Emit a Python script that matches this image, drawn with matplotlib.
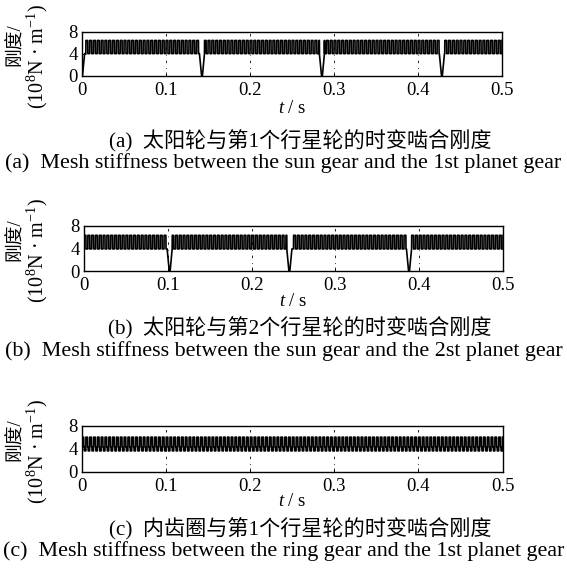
import numpy as np
import matplotlib
matplotlib.use("Agg")
import matplotlib.pyplot as plt

plt.rcParams['font.family'] = ['Liberation Serif', 'Noto Sans CJK SC', 'DejaVu Sans']
plt.rcParams['mathtext.fontset'] = 'custom'
plt.rcParams['mathtext.rm'] = 'Liberation Serif'
plt.rcParams['mathtext.it'] = 'Liberation Serif:italic'

# ---- data ----
t_ticks = [0, 0.1, 0.2, 0.3, 0.4, 0.5]
t_tick_labels = ["0", "0.1", "0.2", "0.3", "0.4", "0.5"]
k_ticks = [0, 4, 8]
k_tick_labels = ["0", "4", "8"]
mesh_freq = 220.0                                  # Hz
# stiffness levels within one mesh period (1e8 N/m) and phase where each level ends
k_levels = [[6.4, 4.0], [6.3, 3.9], [6.0, 4.3, 3.6]]
phase_ends = [[0.5, 1.0], [0.5, 1.0], [0.45, 0.6, 1.0]]
fault_times = [[0.0, 0.1428, 0.2856, 0.4284],
               [0.1022, 0.2450, 0.3878],
               []]
fault_halfwidth = 0.003                            # s
captions_cn = ["(a)  太阳轮与第1个行星轮的时变啮合刚度",
               "(b)  太阳轮与第2个行星轮的时变啮合刚度",
               "(c)  内齿圈与第1个行星轮的时变啮合刚度"]
captions_en = ["(a)  Mesh stiffness between the sun gear and the 1st planet gear",
               "(b)  Mesh stiffness between the sun gear and the 2st planet gear",
               "(c)  Mesh stiffness between the ring gear and the 1st planet gear"]

W, H = 567, 569
fig = plt.figure(figsize=(W / 100, H / 100), dpi=100)

# axes boxes in pixels: left, top, right, bottom
boxes = [(82, 31.7, 502, 75.5), (84, 225.7, 503, 271), (82, 425.7, 502.5, 471.5)]
# vertical offsets (px below axes bottom) for xlabel, chinese caption, english caption
offsets = [(33, 66, 88), (30, 57.5, 80), (30, 57.5, 80)]

t = np.linspace(0, 0.5, 40001)

for i, (l, tp, r, b) in enumerate(boxes):
    ax = fig.add_axes([l / W, 1 - b / H, (r - l) / W, (b - tp) / H])
    phase = (t * mesh_freq) % 1.0
    idx = np.searchsorted(phase_ends[i], phase, side='right')
    idx = np.clip(idx, 0, len(k_levels[i]) - 1)
    k = np.asarray(k_levels[i])[idx]
    for tf in fault_times[i]:
        scale = np.interp(t - tf, [-fault_halfwidth, -fault_halfwidth * 0.2,
                                   fault_halfwidth * 0.2, fault_halfwidth],
                          [1, 0, 0, 1])
        inside = scale < 1
        k = np.where(inside, np.minimum(k, min(k_levels[i]) * scale), k)
    ax.plot(t, k, color='black', lw=1.2)
    ax.set_xlim(0, 0.5)
    ax.set_ylim(0, 8)
    ax.set_xticks(t_ticks)
    ax.set_xticklabels(t_tick_labels)
    ax.set_yticks(k_ticks)
    ax.set_yticklabels(k_tick_labels)
    ax.tick_params(direction='in', length=3, width=0.6, labelsize=13.5)
    ax.tick_params(axis='x', pad=4.5)
    ax.tick_params(axis='y', pad=3)
    ax.grid(axis='x', color='black', lw=0.6, linestyle=(0, (3, 6, 1, 6)))
    for s in ax.spines.values():
        s.set_linewidth(1.0)
    cx = (l + r) / 2
    o1, o2, o3 = offsets[i]
    fig.text(cx / W, 1 - (b + o1) / H, r"$t$ / s", ha='center', va='center', fontsize=13.5)
    fig.text(300 / W, 1 - (b + o2) / H, captions_cn[i], ha='center', va='center', fontsize=15.2)
    fig.text(283.5 / W, 1 - (b + o3) / H, captions_en[i], ha='center', va='center', fontsize=15.8)
    ymid = (tp + b) / 2
    fig.text(15 / W, 1 - (ymid - 9) / H, "刚度/", rotation=90, ha='center', va='center',
             fontsize=13.5)
    fig.text(37 / W, 1 - (ymid + 2.5) / H, r"(10$^8$N · m$^{-1}$)", rotation=90,
             ha='center', va='center', fontsize=14.5)

fig.savefig("out.png", dpi=100)
